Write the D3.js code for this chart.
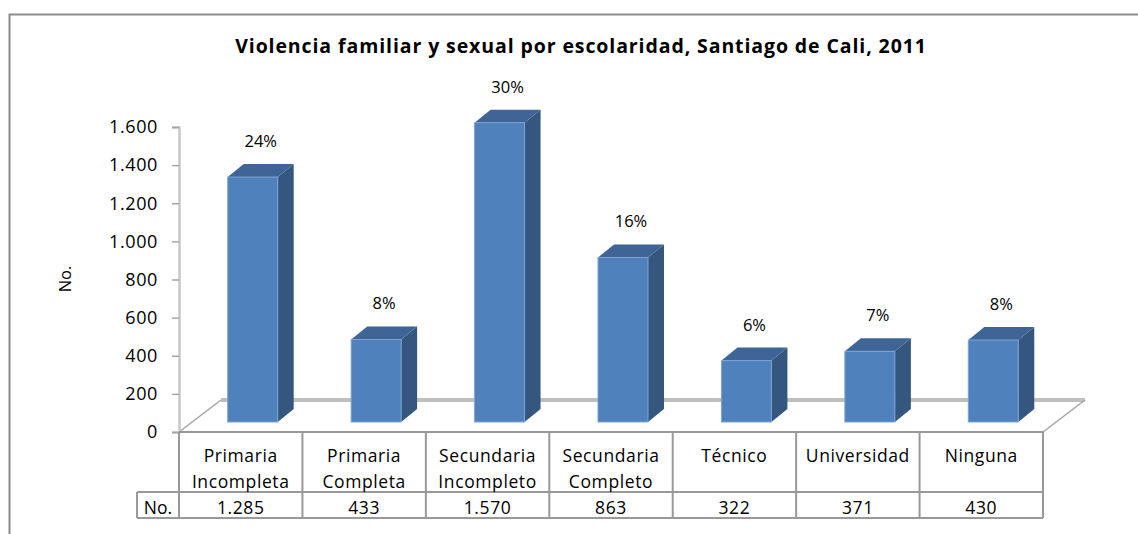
<!DOCTYPE html>
<html>
<head>
<meta charset="utf-8">
<script src="https://cdn.jsdelivr.net/npm/d3@7"></script>
<style>
  body { margin: 0; background: #fff; }
  svg text { font-family: "Open Sans", sans-serif; fill: #000; }
</style>
</head>
<body>
<svg id="chart" width="1138" height="534"></svg>
<script>
// data
var categories = [
    ["Primaria", "Incompleta"],
    ["Primaria", "Completa"],
    ["Secundaria", "Incompleto"],
    ["Secundaria", "Completo"],
    ["Técnico"],
    ["Universidad"],
    ["Ninguna"]
];
var values = [1285, 433, 1570, 863, 322, 371, 430];
var percents = ["24%", "8%", "30%", "16%", "6%", "7%", "8%"];
var yTicks = [0, 200, 400, 600, 800, 1000, 1200, 1400, 1600];
var title = "Violencia familiar y sexual por escolaridad, Santiago de Cali, 2011";

(function () {
    var svg = d3.select("#chart");

    var plotLeft = 179, plotRight = 1043, plotTop = 127, plotBottom = 432;
    var floorBack = {dx: 42, dy: -32},   // back edge of floor
        barShift = {dx: 12, dy: -10},    // front face of bars
        depth = {dx: 16, dy: -13};       // bar depth

    var fmt = d3.formatLocale({decimal: ",", thousands: ".", grouping: [3], currency: ["", ""]}).format(",");

    var x = d3.scaleBand().domain(d3.range(categories.length)).range([plotLeft, plotRight]);
    var y = d3.scaleLinear().domain([0, 1600]).range([plotBottom, plotTop]);

    // outer border
    svg.append("path")
        .attr("d", "M9.5,534 V14.5 H1138")
        .attr("fill", "none")
        .attr("stroke", "#8c8c8c")
        .attr("stroke-width", 2);

    // title
    svg.append("text")
        .attr("x", 581)
        .attr("y", 53)
        .attr("text-anchor", "middle")
        .attr("font-weight", "bold")
        .attr("font-size", 19.5)
        .attr("letter-spacing", 0.9)
        .text(title);

    // floor
    var floor = svg.append("g").attr("class", "floor");
    floor.append("line")
        .attr("x1", plotLeft + floorBack.dx).attr("x2", plotRight + floorBack.dx)
        .attr("y1", plotBottom + floorBack.dy).attr("y2", plotBottom + floorBack.dy)
        .attr("stroke", "#bfbfbf").attr("stroke-width", 4);
    [plotLeft, plotRight].forEach(function (px) {
        floor.append("line")
            .attr("x1", px).attr("y1", plotBottom)
            .attr("x2", px + floorBack.dx).attr("y2", plotBottom + floorBack.dy)
            .attr("stroke", "#a6a6a6").attr("stroke-width", 1.5);
    });

    // y axis
    var yAxis = svg.append("g")
        .attr("transform", "translate(" + plotLeft + ",0)")
        .call(d3.axisLeft(y).tickValues(yTicks).tickSize(7).tickPadding(14).tickFormat(fmt));
    yAxis.select(".domain").attr("stroke", "#c8c8c8").attr("stroke-width", 2.5);
    yAxis.selectAll(".tick line").attr("stroke", "#a6a6a6").attr("stroke-width", 1.5);
    yAxis.selectAll(".tick text")
        .attr("font-size", 18)
        .attr("letter-spacing", 0.6)
        .attr("font-family", "'Open Sans', sans-serif")
        .attr("fill", "#000");

    svg.append("text")
        .attr("transform", "translate(71,279) rotate(-90)")
        .attr("text-anchor", "middle")
        .attr("font-size", 16.5)
        .text("No.");

    // bars
    var barW = x.bandwidth() * 0.405;
    var bars = svg.append("g").attr("class", "bars")
        .selectAll("g")
        .data(values)
        .enter()
        .append("g");

    function x0(i) { return x(i) + x.bandwidth() / 2 - barW / 2 + barShift.dx; }
    function yTop(v) { return y(v) + barShift.dy; }
    var yBase = plotBottom + barShift.dy;

    // side face
    bars.append("path")
        .attr("d", function (d, i) {
            var xr = x0(i) + barW, yt = yTop(d);
            return "M" + xr + "," + yBase + " L" + xr + "," + yt +
                " L" + (xr + depth.dx) + "," + (yt + depth.dy) +
                " L" + (xr + depth.dx) + "," + (yBase + depth.dy) + " Z";
        })
        .attr("fill", "#34567f");

    // top face
    bars.append("path")
        .attr("d", function (d, i) {
            var xl = x0(i), yt = yTop(d);
            return "M" + xl + "," + yt + " L" + (xl + barW) + "," + yt +
                " L" + (xl + barW + depth.dx) + "," + (yt + depth.dy) +
                " L" + (xl + depth.dx) + "," + (yt + depth.dy) + " Z";
        })
        .attr("fill", "#3e6596");

    // front face
    bars.append("rect")
        .attr("x", function (d, i) { return x0(i); })
        .attr("y", function (d) { return yTop(d); })
        .attr("width", barW)
        .attr("height", function (d) { return yBase - yTop(d); })
        .attr("fill", "#4f81bd")
        .attr("stroke", "#7ea3d3")
        .attr("stroke-width", 1);

    // percent labels
    bars.append("text")
        .attr("x", function (d, i) { return x0(i) + barW / 2 + depth.dx / 2; })
        .attr("y", function (d) { return yTop(d) + depth.dy - 17; })
        .attr("text-anchor", "middle")
        .attr("font-size", 16.5)
        .text(function (d, i) { return percents[i]; });

    // data table
    var rowTop = plotBottom, rowMid = 492, rowBot = 518, noLeft = 137;
    var table = svg.append("g").attr("class", "table")
        .attr("stroke", "#999").attr("stroke-width", 2).attr("fill", "none");
    table.append("line").attr("x1", plotLeft).attr("x2", plotRight).attr("y1", rowTop).attr("y2", rowTop);
    table.append("line").attr("x1", noLeft).attr("x2", plotRight).attr("y1", rowMid).attr("y2", rowMid);
    table.append("line").attr("x1", noLeft).attr("x2", plotRight).attr("y1", rowBot).attr("y2", rowBot);
    table.append("line").attr("x1", noLeft).attr("x2", noLeft).attr("y1", rowMid).attr("y2", rowBot);
    d3.range(categories.length + 1).forEach(function (i) {
        var px = i < categories.length ? x(i) : plotRight;
        table.append("line").attr("x1", px).attr("x2", px).attr("y1", rowTop).attr("y2", rowBot);
    });

    var cells = svg.append("g").selectAll("g")
        .data(categories)
        .enter()
        .append("g");

    cells.each(function (lines, i) {
        var cx = x(i) + x.bandwidth() / 2;
        var g = d3.select(this);
        lines.forEach(function (ln, k) {
            g.append("text")
                .attr("x", cx)
                .attr("y", 462 + k * 26)
                .attr("text-anchor", "middle")
                .attr("font-size", 17.5)
                .attr("letter-spacing", 0.6)
                .text(ln);
        });
        g.append("text")
            .attr("x", cx)
            .attr("y", 514)
            .attr("text-anchor", "middle")
            .attr("font-size", 17.5)
            .attr("letter-spacing", 0.6)
            .text(fmt(values[i]));
    });

    svg.append("text")
        .attr("x", (noLeft + plotLeft) / 2)
        .attr("y", 514)
        .attr("text-anchor", "middle")
        .attr("font-size", 17.5)
        .text("No.");
})();
</script>
</body>
</html>
